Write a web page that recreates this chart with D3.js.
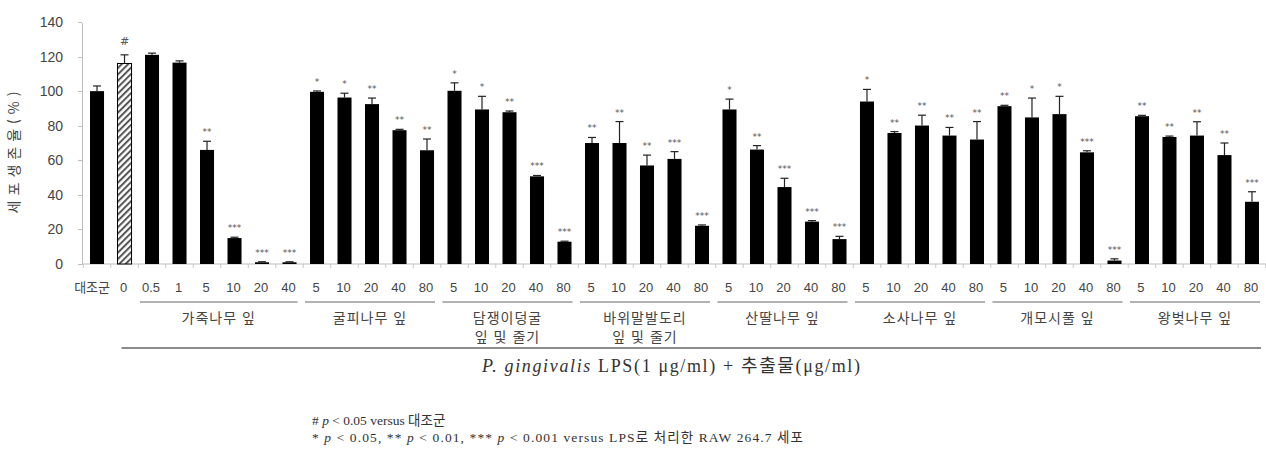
<!DOCTYPE html>
<html lang="ko">
<head>
    <meta charset="UTF-8">
    <title>세포생존율</title>
    <script src="https://d3js.org/d3.v7.min.js"></script>
    <style>
        body { margin: 0; background: #fff; }
        .axis path, .axis line { stroke: #bdbdbd; shape-rendering: crispEdges; }
        .axis text { fill: #444; font-family: "Liberation Sans", Arial, sans-serif; font-size: 14px; }
        .dose { fill: #444; font-family: "Liberation Sans", "Noto Sans CJK KR", sans-serif; font-size: 13px; }
        .grp { fill: #444; font-family: "Noto Sans CJK KR", sans-serif; font-size: 14px; letter-spacing: 1px; }
        .sig { fill: #555; font-family: "DejaVu Sans", sans-serif; font-size: 9px; }
        .note { fill: #333; font-family: "Liberation Serif", "Noto Sans CJK KR", serif; }
    </style>
</head>
<body>
<svg width="1266" height="455"></svg>
<script>
    // 농도 라벨 (막대 순서대로)
    const doses = ["대조군", "0", "0.5", "1", "5", "10", "20", "40",
        "5", "10", "20", "40", "80",
        "5", "10", "20", "40", "80",
        "5", "10", "20", "40", "80",
        "5", "10", "20", "40", "80",
        "5", "10", "20", "40", "80",
        "5", "10", "20", "40", "80",
        "5", "10", "20", "40", "80"];

    // 세포생존율 (%)
    const values = [100, 116, 121, 116.5, 66, 15, 1, 1,
        99.6, 96.3, 92.5, 77.4, 65.8,
        100.2, 89.4, 87.8, 50.7, 12.9,
        70, 70, 57, 60.8, 22.1,
        89.4, 66.2, 44.5, 24.5, 14.4,
        94, 75.8, 80.1, 74.3, 72,
        91.3, 84.8, 86.7, 64.6, 2,
        85.5, 73.5, 74.3, 63, 36];

    // 표준편차 (위쪽)
    const errors = [3, 5, 1, 1, 5, 0.5, 0.3, 0.3,
        0.5, 2.5, 3.5, 0.5, 6.5,
        4.6, 7.6, 0.7, 0.5, 0.3,
        3.2, 12.4, 6, 4.2, 0.5,
        6, 2.3, 5.1, 0.6, 1.6,
        7, 0.8, 6, 4.7, 10.4,
        0.5, 11.2, 10.3, 0.9, 1,
        0.5, 0.5, 8, 7, 5.8];

    // 유의성 표시
    const marks = ["", "#", "", "", "**", "***", "***", "***",
        "*", "*", "**", "**", "**",
        "*", "*", "**", "***", "***",
        "**", "**", "**", "***", "***",
        "*", "**", "***", "***", "***",
        "*", "**", "**", "**", "**",
        "**", "*", "*", "***", "***",
        "**", "**", "**", "**", "***"];

    const groupNames = [["가죽나무 잎"], ["굴피나무 잎"], ["담쟁이덩굴", "잎 및 줄기"],
        ["바위말발도리", "잎 및 줄기"], ["산딸나무 잎"], ["소사나무 잎"], ["개모시풀 잎"], ["왕벚나무 잎"]];
    const groupSizes = [6, 5, 5, 5, 5, 5, 5, 5];
    const yTicks = [0, 20, 40, 60, 80, 100, 120, 140];

    const svg = d3.select("svg");

    const x = d3.scaleBand()
        .domain(d3.range(values.length))
        .range([83, 1266])
        .paddingInner(0.49)
        .paddingOuter(0.255);

    const y = d3.scaleLinear()
        .domain([0, 140])
        .range([264, 22]);

    const bw = x.bandwidth();
    const step = x.step();

    // 빗금 패턴 (LPS 단독)
    const defs = svg.append("defs");
    const pat = defs.append("pattern")
        .attr("id", "hatch")
        .attr("patternUnits", "userSpaceOnUse")
        .attr("width", 4.5)
        .attr("height", 4.5)
        .attr("patternTransform", "rotate(45)");
    pat.append("rect").attr("width", 4.5).attr("height", 4.5).attr("fill", "#fff");
    pat.append("line").attr("x1", 1).attr("x2", 1).attr("y1", 0).attr("y2", 4.5)
        .attr("stroke", "#555").attr("stroke-width", 2);

    // Y 축
    svg.append("g")
        .attr("class", "axis")
        .attr("transform", "translate(82,0)")
        .call(d3.axisLeft(y).tickValues(yTicks).tickSize(4).tickSizeOuter(0).tickPadding(15));

    // X 축 선과 눈금 (막대 사이)
    svg.append("line")
        .attr("x1", 82).attr("x2", 1266)
        .attr("y1", y(0)).attr("y2", y(0))
        .attr("stroke", "#bdbdbd");
    svg.selectAll(".xtick")
        .data(d3.range(values.length + 1))
        .enter().append("line")
        .attr("class", "xtick")
        .attr("x1", i => x(0) - step * 0.245 + i * step)
        .attr("x2", i => x(0) - step * 0.245 + i * step)
        .attr("y1", y(0)).attr("y2", y(0) + 4)
        .attr("stroke", "#c8c8c8");

    // 막대
    svg.selectAll(".bar")
        .data(values)
        .enter().append("rect")
        .attr("class", "bar")
        .attr("x", (d, i) => x(i))
        .attr("y", d => y(d))
        .attr("width", bw)
        .attr("height", d => y(0) - y(d))
        .attr("fill", (d, i) => i === 1 ? "url(#hatch)" : "#000")
        .attr("stroke", "#000")
        .attr("stroke-width", (d, i) => i === 1 ? 1 : 0);

    // 오차 막대
    const eb = svg.selectAll(".err")
        .data(values)
        .enter().append("g")
        .attr("class", "err");
    eb.append("line")
        .attr("x1", (d, i) => x(i) + bw / 2)
        .attr("x2", (d, i) => x(i) + bw / 2)
        .attr("y1", d => y(d))
        .attr("y2", (d, i) => y(d + errors[i]))
        .attr("stroke", "#222").attr("stroke-width", 1.2);
    eb.append("line")
        .attr("x1", (d, i) => x(i) + bw / 2 - 4)
        .attr("x2", (d, i) => x(i) + bw / 2 + 4)
        .attr("y1", (d, i) => y(d + errors[i]))
        .attr("y2", (d, i) => y(d + errors[i]))
        .attr("stroke", "#222").attr("stroke-width", 1.2);

    // 유의성 별표
    svg.selectAll(".sig")
        .data(marks)
        .enter().append("text")
        .attr("class", "sig")
        .attr("x", (d, i) => x(i) + bw / 2)
        .attr("y", (d, i) => y(values[i] + errors[i]) - (d === "#" ? 10 : 6))
        .attr("text-anchor", "middle")
        .style("font-size", d => d === "#" ? "11px" : "9px")
        .text(d => d);

    // 농도 라벨
    svg.selectAll(".dose")
        .data(doses)
        .enter().append("text")
        .attr("class", "dose")
        .attr("x", (d, i) => i === 0 ? x(i) + bw + 6 : x(i) + bw / 2 - 1)
        .attr("y", 292)
        .attr("text-anchor", (d, i) => i === 0 ? "end" : "middle")
        .text(d => d);

    // 그룹 밑줄 및 이름
    let start = 2;
    groupNames.forEach((name, g) => {
        const end = start + groupSizes[g] - 1;
        const x0 = x(start) - 5;
        const x1 = x(end) + bw + 1;
        svg.append("line")
            .attr("x1", x0).attr("x2", x1)
            .attr("y1", 302).attr("y2", 302)
            .attr("stroke", "#666").attr("stroke-width", 1.2);
        const t = svg.append("text")
            .attr("class", "grp")
            .attr("text-anchor", "middle");
        name.forEach((line, k) => {
            t.append("tspan")
                .attr("x", (x0 + x1) / 2)
                .attr("y", 323 + k * 19)
                .text(line);
        });
        start = end + 1;
    });

    // 처리군 전체 선
    svg.append("line")
        .attr("x1", x(1) + 4).attr("x2", x(values.length - 1) + bw + 2)
        .attr("y1", 348).attr("y2", 348)
        .attr("stroke", "#8c8c8c").attr("stroke-width", 2);

    // 처리 조건 제목
    const title = svg.append("text")
        .attr("class", "note")
        .attr("x", 671).attr("y", 372)
        .attr("text-anchor", "middle")
        .attr("textLength", 378)
        .attr("lengthAdjust", "spacing")
        .style("font-size", "18px");
    title.append("tspan").style("font-style", "italic").text("P. gingivalis");
    title.append("tspan").text(" LPS(1  μg/ml)  +  추출물(μg/ml)");

    // Y 축 제목
    svg.append("text")
        .attr("class", "grp")
        .attr("transform", "translate(19,150) rotate(-90)")
        .attr("text-anchor", "middle")
        .style("font-size", "14px")
        .style("letter-spacing", "5px")
        .text("세포생존율(%)");

    // 각주
    const notes = svg.append("g").attr("class", "note").style("font-size", "13.5px");
    const n1 = notes.append("text").attr("x", 312).attr("y", 425);
    n1.append("tspan").text("# ");
    n1.append("tspan").style("font-style", "italic").text("p");
    n1.append("tspan").text(" < 0.05 versus 대조군");
    const n2 = notes.append("text").attr("x", 312).attr("y", 442)
        .attr("textLength", 491)
        .attr("lengthAdjust", "spacing");
    n2.append("tspan").text("* ");
    n2.append("tspan").style("font-style", "italic").text("p");
    n2.append("tspan").text(" < 0.05, ** ");
    n2.append("tspan").style("font-style", "italic").text("p");
    n2.append("tspan").text(" < 0.01, *** ");
    n2.append("tspan").style("font-style", "italic").text("p");
    n2.append("tspan").text(" < 0.001 versus LPS로 처리한 RAW 264.7 세포");
</script>
</body>
</html>
